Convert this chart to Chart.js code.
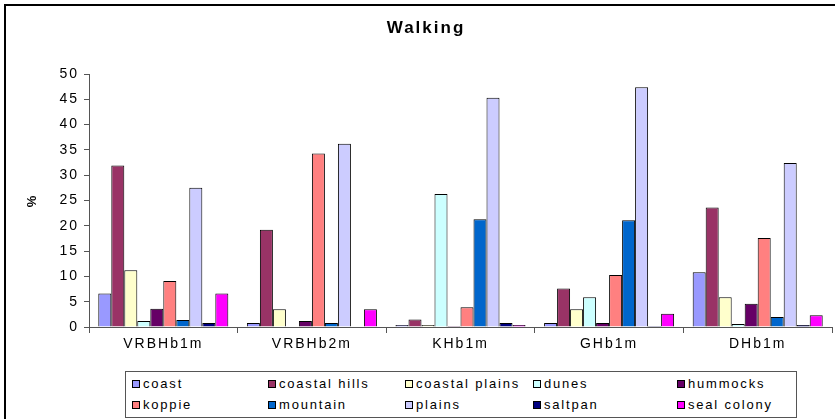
<!DOCTYPE html>
<html>
<head>
<meta charset="utf-8">
<script src="https://cdn.jsdelivr.net/npm/chart.js@4/dist/chart.umd.min.js"></script>
<style>
  html, body { margin: 0; padding: 0; background: #fff; }
  #wrap { position: relative; width: 835px; height: 419px; overflow: hidden; background: #fff; }
  #frame { position: absolute; left: 4px; top: 4px; width: 900px; height: 500px;
           border-top: 2px solid #000; border-left: 2px solid #000; box-sizing: border-box; }
  #chart { position: absolute; left: 0; top: 0; }
  #legend { position: absolute; left: 125px; top: 371px; width: 672px; height: 47px;
            border: 1px solid #555; box-sizing: border-box; background: #fff;
            display: grid; grid-template-columns: 136px 137px 128px 144px auto;
            grid-template-rows: 21px 21px; padding: 1px 0 0 6px;
            font: 13px "Liberation Sans", Arial, sans-serif; letter-spacing: 1.8px; color: #000; }
  .item { display: flex; align-items: center; white-space: nowrap; }
  .sw { width: 6px; height: 6px; border: 1px solid #000; margin-right: 3px; flex: none; }
</style>
</head>
<body>
<div id="wrap">
  <div id="frame"></div>
  <canvas id="chart" width="835" height="419"></canvas>
  <div id="legend"></div>
</div>
<script>
// Sites (x axis)
const categories = ['VRBHb1m', 'VRBHb2m', 'KHb1m', 'GHb1m', 'DHb1m'];

// Percentage of walking time per habitat, one array per habitat
const coast         = [6.6, 0.8, 0.4, 0.8, 10.8];
const coastalHills  = [31.9, 19.2, 1.5, 7.6, 23.6];
const coastalPlains = [11.2, 3.5, 0.4, 3.5, 5.9];
const dunes         = [1.2, 0, 26.3, 5.9, 0.6];
const hummocks      = [3.6, 1.2, 0.2, 0.8, 4.6];
const koppie        = [9.1, 34.3, 3.9, 10.3, 17.6];
const mountain      = [1.4, 0.8, 21.3, 21.1, 2.0];
const plains        = [27.5, 36.2, 45.3, 47.4, 32.4];
const saltpan       = [0.8, 0, 0.8, 0.2, 0.4];
const sealColony    = [6.6, 3.5, 0.4, 2.6, 2.3];

const yTicks = { min: 0, max: 50, step: 5 };

const series = [
  ['coast', coast], ['coastal hills', coastalHills], ['coastal plains', coastalPlains],
  ['dunes', dunes], ['hummocks', hummocks], ['koppie', koppie], ['mountain', mountain],
  ['plains', plains], ['saltpan', saltpan], ['seal colony', sealColony]
];

const palette = ['#9999FF', '#993366', '#FFFFCC', '#CCFFFF', '#660066',
                 '#FF8080', '#0066CC', '#CCCCFF', '#000080', '#FF00FF'];

const FONT = '"Liberation Sans", Arial, sans-serif';
const AXIS = '#555555';

// Wide letter spacing for all canvas text (state is reset whenever the canvas is sized)
const spacing = {
  id: 'spacing',
  beforeUpdate(c) { c.ctx.letterSpacing = '2px'; },
  beforeLayout(c) { c.ctx.letterSpacing = '2px'; },
  beforeDraw(c) { c.ctx.letterSpacing = '2px'; }
};

const chart = new Chart(document.getElementById('chart'), {
  type: 'bar',
  plugins: [spacing],
  data: {
    labels: categories,
    datasets: series.map(([name, values], i) => ({
      label: name,
      data: values,
      backgroundColor: palette[i],
      borderColor: '#000',
      borderWidth: 1,
      categoryPercentage: 0.875,
      barPercentage: 1
    }))
  },
  options: {
    responsive: false,
    animation: false,
    devicePixelRatio: 1,
    layout: { padding: { top: 18, left: 20, right: 3, bottom: 52 } },
    plugins: {
      legend: { display: false },
      tooltip: { enabled: false },
      title: {
        display: true,
        text: 'Walking',
        color: '#000',
        font: { family: FONT, size: 17, weight: 'bold', lineHeight: 1.2 },
        padding: { top: 0, bottom: 35.6 }
      }
    },
    scales: {
      x: {
        grid: { drawOnChartArea: false, offset: true, tickLength: 6, color: AXIS },
        border: { color: AXIS },
        ticks: { color: '#000', font: { family: FONT, size: 14 }, padding: 3, maxRotation: 0 },
        afterFit: s => { s.height = 40; }
      },
      y: {
        min: yTicks.min,
        max: yTicks.max,
        grid: { drawOnChartArea: false, tickLength: 5, color: AXIS },
        border: { color: AXIS },
        ticks: { stepSize: yTicks.step, color: '#000', font: { family: FONT, size: 14 }, padding: 5 },
        title: { display: true, text: '%', color: '#000',
                 font: { family: FONT, size: 13, weight: 'bold' }, padding: { top: 5, bottom: 0 } },
        afterFit: s => { s.width = 69; }
      }
    }
  }
});

// Legend in a fixed five-column grid, built from the chart's datasets
const legendEl = document.getElementById('legend');
chart.data.datasets.forEach(ds => {
  const item = document.createElement('div');
  item.className = 'item';
  const sw = document.createElement('span');
  sw.className = 'sw';
  sw.style.background = ds.backgroundColor;
  const txt = document.createElement('span');
  txt.textContent = ds.label;
  item.append(sw, txt);
  legendEl.appendChild(item);
});
</script>
</body>
</html>
